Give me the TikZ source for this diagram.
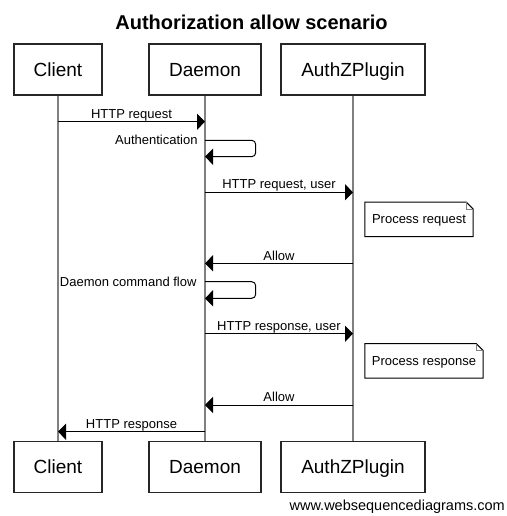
\documentclass[tikz,border=0pt]{standalone}
\usepackage{fontspec}
\setmainfont{Liberation Sans}
\usetikzlibrary{arrows.meta}

\begin{document}
\begin{tikzpicture}[x=1pt,y=-1pt,
    actor/.style={draw=black!85,line width=1.2pt,minimum height=51pt,inner sep=0pt,
      font=\fontsize{19}{22}\selectfont,text height=13.6pt,text depth=0pt},
    life/.style={draw=black!50,line width=2pt},
    msg/.style={draw,line width=1pt,-{Triangle[length=8pt,width=16pt]}},
    lbl/.style={font=\fontsize{13}{15}\selectfont,anchor=base,inner sep=0pt},
    notebox/.style={font=\fontsize{13}{15}\selectfont,inner sep=0pt,minimum height=34pt,
      text height=9.3pt,text depth=0pt},
    fold/.style={draw=black!50,line width=0.8pt}]
	  \useasboundingbox (0,0) rectangle (506,516);

	  \node[font=\bfseries\fontsize{20}{24}\selectfont,anchor=base] (title) at (251.5,29.5) {Authorization allow scenario};

	  \node[actor,minimum width=88pt] (c) at (58,69.5) {Client};
	  \node[actor,minimum width=112pt] (d) at (205,69.5) {Daemon};
	  \node[actor,minimum width=144pt] (p) at (353,69.5) {AuthZPlugin};
	  \node[actor,minimum width=88pt] (cb) at (58,467) {Client};
	  \node[actor,minimum width=112pt] (db) at (205,467) {Daemon};
	  \node[actor,minimum width=144pt] (pb) at (353,467) {AuthZPlugin};

	  \draw[life] (c) -- (cb);
	  \draw[life] (d) -- (db);
	  \draw[life] (p) -- (pb);

	  % message ends on the lifelines
	  \coordinate (c1) at (58,121.7);  \coordinate (d1) at (205,121.7);
	  \coordinate (d2) at (205,140.3); \coordinate (d3) at (205,156.7);
	  \coordinate (d4) at (205,192.3); \coordinate (p4) at (353,192.3);
	  \coordinate (d5) at (205,263.3); \coordinate (p5) at (353,263.3);
	  \coordinate (d6) at (205,281.7); \coordinate (d7) at (205,298.3);
	  \coordinate (d8) at (205,333.7); \coordinate (p8) at (353,333.7);
	  \coordinate (d9) at (205,405);   \coordinate (p9) at (353,405);
	  \coordinate (c10) at (58,431.7); \coordinate (d10) at (205,431.7);

	  \draw[msg] (c1) -- (d1);
	  \draw[msg,rounded corners=4pt] (d2) -- ++(50.7,0) -- ++(0,16.4) -- (d3);
	  \draw[msg] (d4) -- (p4);
	  \draw[msg] (p5) -- (d5);
	  \draw[msg,rounded corners=4pt] (d6) -- ++(50.7,0) -- ++(0,16.6) -- (d7);
	  \draw[msg] (d8) -- (p8);
	  \draw[msg] (p9) -- (d9);
	  \draw[msg] (d10) -- (c10);

	  \node[lbl] (m1) at (131.5,118) {HTTP request};
	  \node[lbl,anchor=base east] (m2) at (197.7,144.3) {Authentication};
	  \node[lbl] (m3) at (279,188.6) {HTTP request, user};
	  \node[lbl] (m4) at (279,260) {Allow};
	  \node[lbl,anchor=base east] (m5) at (196.7,286) {Daemon command flow};
	  \node[lbl] (m6) at (279,330) {HTTP response, user};
	  \node[lbl] (m7) at (279,401.5) {Allow};
	  \node[lbl] (m8) at (131.5,428) {HTTP response};

	  % notes with folded corner
	  \node[notebox,minimum width=108pt] (n1) at (419,219.3) {Process request};
	  \node[notebox,minimum width=118pt] (n2) at (424,360.8) {Process response};
	  \foreach \n in {n1,n2} {
	    \draw[line width=1pt] (\n.north west) -- ([xshift=-7pt]\n.north east) -- ([yshift=-7pt]\n.north east)
	      -- (\n.south east) -- (\n.south west) -- cycle;
	    \draw[fold] ([xshift=-7pt]\n.north east) |- ([yshift=-7pt]\n.north east);
	  }

	  \node[font=\fontsize{14.5}{17}\selectfont,anchor=base east,inner sep=0pt] (site) at (505,510) {www.websequencediagrams.com};
\end{tikzpicture}
\end{document}
